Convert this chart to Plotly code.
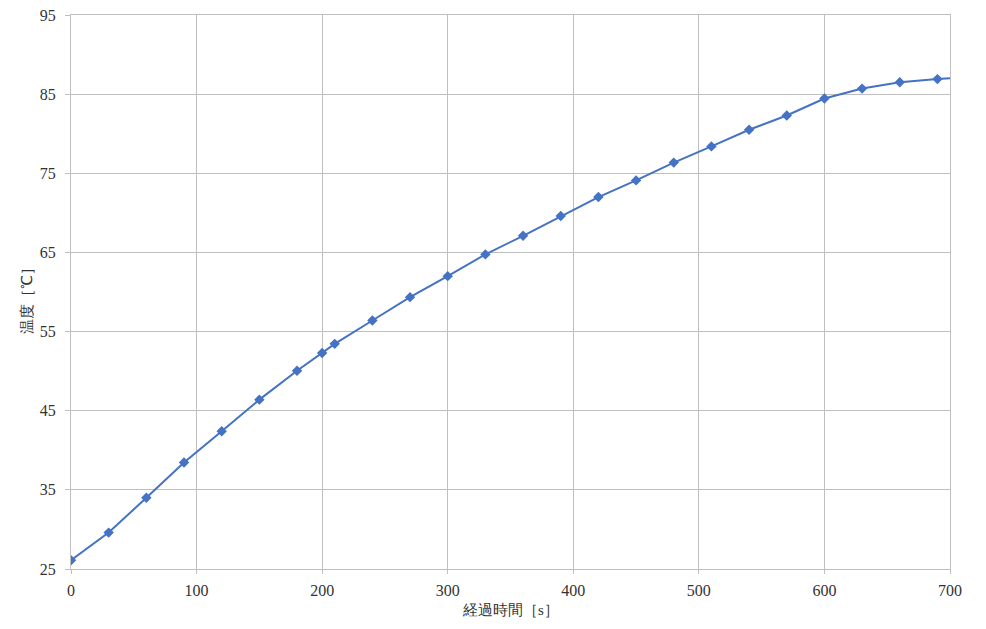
import plotly.graph_objects as go

time_s = [0, 30, 60, 90, 120, 150, 180, 200, 210, 240, 270, 300, 330, 360, 390,
          420, 450, 480, 510, 540, 570, 600, 630, 660, 690, 720]
temp_c = [26.1, 29.6, 34.0, 38.45, 42.4, 46.4, 50.05, 52.3, 53.45, 56.4, 59.35,
          62.0, 64.75, 67.1, 69.6, 72.0, 74.1, 76.35, 78.4, 80.5, 82.3, 84.45,
          85.7, 86.5, 86.9, 87.2]

x_ticks = [0, 100, 200, 300, 400, 500, 600, 700]
y_ticks = [25, 35, 45, 55, 65, 75, 85, 95]

x_title = "経過時間［s］"
y_title = "温度［℃］"

FONT = "Liberation Serif"
GRID = "#bfbfbf"
BLUE = "#4472C4"
TXT = "#333333"

# page body has an 8px margin; figure sized/margined so plot area lands at
# x 71..950, y 15..569 in the window
fig = go.Figure()
fig.add_trace(go.Scatter(
    x=time_s, y=temp_c, mode="lines+markers",
    line=dict(color=BLUE, width=2),
    marker=dict(symbol="diamond", size=8, color=BLUE),
    cliponaxis=True, showlegend=False,
))

fig.update_layout(
    width=978, height=621,
    margin=dict(l=63, r=36, t=7, b=60, autoexpand=False),
    paper_bgcolor="white", plot_bgcolor="white",
    font=dict(family=FONT, size=15, color=TXT),
    xaxis=dict(
        range=[0, 700], tickvals=x_ticks, ticktext=[str(v) for v in x_ticks],
        automargin=False,
        showgrid=True, gridcolor=GRID, gridwidth=1,
        zeroline=False, showline=True, mirror=True, linecolor=GRID, linewidth=1,
        ticks="outside", ticklen=4, tickcolor=GRID,
        ticklabelstandoff=3, ticklabeloverflow="allow",
        tickfont=dict(family=FONT, size=16, color=TXT),
    ),
    yaxis=dict(
        range=[25, 95], tickvals=y_ticks, ticktext=[str(v) for v in y_ticks],
        automargin=False,
        showgrid=True, gridcolor=GRID, gridwidth=1,
        zeroline=False, showline=True, mirror=True, linecolor=GRID, linewidth=1,
        ticks="outside", ticklen=5, tickcolor=GRID,
        ticklabelstandoff=6, ticklabeloverflow="allow",
        tickfont=dict(family=FONT, size=16, color=TXT),
    ),
    annotations=[
        dict(text=x_title, xref="paper", yref="paper", x=0.5,
             y=-(610 - 569) / 554, yanchor="middle", xanchor="center",
             showarrow=False, font=dict(family=FONT, size=15, color=TXT)),
        dict(text=y_title, xref="paper", yref="paper", x=-(71 - 27) / 879,
             y=(569 - 297) / 554, xanchor="center", yanchor="middle",
             textangle=-90, showarrow=False,
             font=dict(family=FONT, size=15, color=TXT)),
    ],
)

fig.write_html("out.html")
